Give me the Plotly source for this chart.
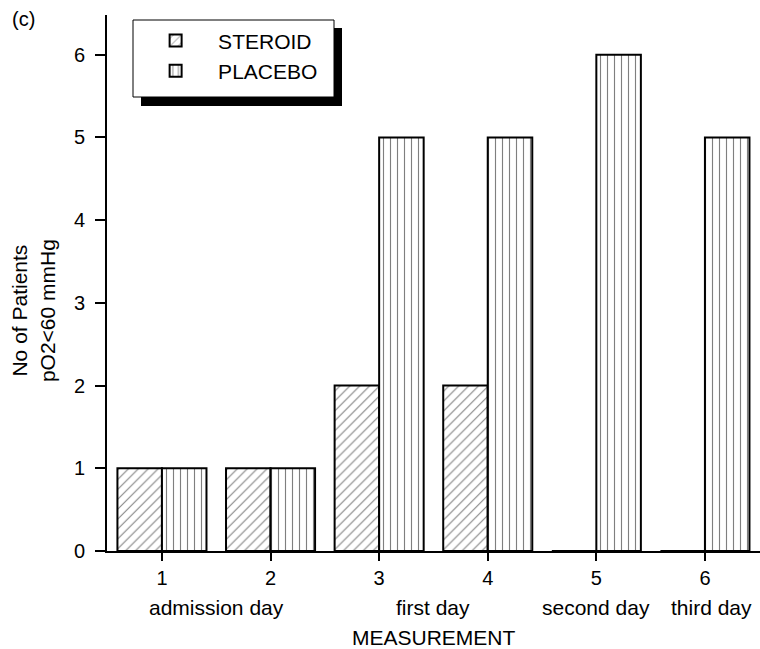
import plotly.graph_objects as go

categories = [1, 2, 3, 4, 5, 6]
steroid = [1, 1, 2, 2, 0, 0]
placebo = [1, 1, 5, 5, 6, 5]
day_labels = ["admission day", "first day", "second day", "third day"]
day_label_pos = [1.5, 3.5, 5.0, 6.06]

FONT = "Liberation Sans, Arial, Helvetica, sans-serif"

fig = go.Figure()
fig.add_trace(go.Bar(
    x=categories, y=steroid, name="STEROID",
    marker=dict(color="white", line=dict(color="black", width=2),
                pattern=dict(shape="/", fgcolor="black", bgcolor="white", size=7, solidity=0.15)),
))
fig.add_trace(go.Bar(
    x=categories, y=placebo, name="PLACEBO",
    marker=dict(color="white", line=dict(color="black", width=2),
                pattern=dict(shape="|", fgcolor="black", bgcolor="white", size=7, solidity=0.16)),
))

annotations = []
for lab, pos in zip(day_labels, day_label_pos):
    annotations.append(dict(x=pos, y=-0.106, xref="x", yref="paper", text=lab,
                            showarrow=False, font=dict(size=21, family=FONT, color="black"),
                            xanchor="center", yanchor="middle"))
annotations.append(dict(x=0.5, y=-0.162, xref="paper", yref="paper", text="MEASUREMENT",
                        showarrow=False, font=dict(size=21, family=FONT, color="black"),
                        xanchor="center", yanchor="middle"))
annotations.append(dict(x=-0.113, y=0.448, xref="paper", yref="paper",
                        text="No of Patients<br>pO2&lt;60 mmHg", textangle=-90,
                        showarrow=False, font=dict(size=21, family=FONT, color="black"),
                        xanchor="center", yanchor="middle"))
annotations.append(dict(x=-0.1485, y=0.993, xref="paper", yref="paper", text="(c)",
                        showarrow=False, font=dict(size=20, family=FONT, color="black"),
                        xanchor="left", yanchor="middle"))

fig.update_layout(
    width=760, height=649,
    margin=dict(l=107, r=0, t=15, b=98),
    paper_bgcolor="white", plot_bgcolor="white",
    barmode="group", bargap=0.18, bargroupgap=0,
    font=dict(family=FONT, size=20, color="black"),
    showlegend=True,
    legend=dict(x=0.04, y=0.99, xanchor="left", yanchor="top",
                bgcolor="rgba(0,0,0,0)", borderwidth=0,
                font=dict(size=21, family=FONT, color="black"),
                itemwidth=75, tracegroupgap=0),
    xaxis=dict(range=[0.494, 6.507], tickvals=categories, ticktext=[str(c) for c in categories],
               showline=True, linecolor="black", linewidth=2, ticks="outside", ticklen=8,
               tickwidth=1.5, tickcolor="black", showgrid=False, zeroline=False,
               tickfont=dict(size=20)),
    yaxis=dict(range=[0, 6.48], tickvals=[0, 1, 2, 3, 4, 5, 6],
               showline=True, linecolor="black", linewidth=2, ticks="outside", ticklen=10,
               tickwidth=1.5, tickcolor="black", showgrid=False, zeroline=False,
               tickfont=dict(size=20), ticklabelstandoff=6),
    annotations=annotations,
)
# legend drop shadow and box
fig.add_shape(type="rect", xref="paper", yref="paper",
              x0=(141 - 107) / 653, x1=(342 - 107) / 653,
              y0=(551 - 106) / 536, y1=(551 - 28) / 536,
              fillcolor="black", line=dict(width=0), layer="above")
fig.add_shape(type="rect", xref="paper", yref="paper",
              x0=(133 - 107) / 653, x1=(334 - 107) / 653,
              y0=(551 - 97) / 536, y1=(551 - 20) / 536,
              fillcolor="white", line=dict(color="black", width=1), layer="above")

fig.write_html("out.html", config={"displayModeBar": False},
               post_script="document.body.style.margin='0';")
